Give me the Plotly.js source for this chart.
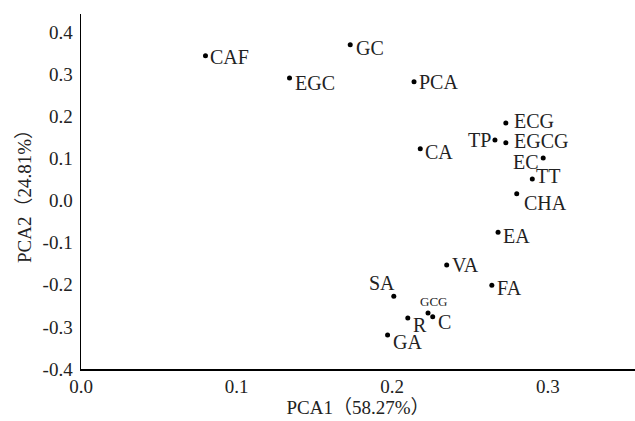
<!DOCTYPE html>
<html><head><meta charset="utf-8">
<script src="https://cdn.plot.ly/plotly-3.0.1.min.js"></script>
<style>html,body{margin:0;padding:0;background:#fff}#chart{width:635px;height:421px}</style>
</head><body><div id="chart"></div>
<script>
const names = ["CAF","EGC","GC","PCA","ECG","TP","EGCG","EC","TT","CHA","CA","EA","VA","FA","SA","GCG","C","R","GA"];
const pca1 = [0.080,0.134,0.173,0.214,0.273,0.266,0.273,0.297,0.290,0.280,0.218,0.268,0.235,0.264,0.201,0.223,0.226,0.210,0.197];
const pca2 = [0.344,0.291,0.370,0.282,0.184,0.144,0.137,0.101,0.051,0.016,0.123,-0.075,-0.153,-0.201,-0.227,-0.267,-0.276,-0.279,-0.319];
const xTicks = [0.0,0.1,0.2,0.3];
const yTicks = [0.4,0.3,0.2,0.1,0.0,-0.1,-0.2,-0.3,-0.4];

const FAM = "'Times New Roman', 'Liberation Serif', 'Noto Sans CJK SC', serif";
// label placement style: [xanchor, xshift, yshift]
const place = {
  CAF:["left",3,-1], EGC:["left",3,-5], GC:["left",4,-3], PCA:["left",3,0], ECG:["left",6,2],
  TP:["right",-2,0], EGCG:["left",6,2], EC:["right",-2,-4], TT:["left",2,3], CHA:["left",5,-9],
  CA:["left",3,-3], EA:["left",3,-4], VA:["left",3,0], FA:["left",3,-3], SA:["center",-12,13],
  GCG:["center",5,11], C:["left",3,-5], R:["left",3,-7], GA:["left",3,-7]
};
const annotations = names.map((n, i) => ({
  x: pca1[i], y: pca2[i], text: n, showarrow: false,
  xanchor: place[n][0], yanchor: "middle", xshift: place[n][1], yshift: place[n][2],
  font: {family: FAM, size: n === "GCG" ? 13 : 20, color: "#222"}
}));

const trace = {
  x: pca1, y: pca2, type: "scatter", mode: "markers",
  marker: {color: "#000", size: 5},
  cliponaxis: false, hoverinfo: "none"
};
const font = {family: FAM, size: 19, color: "#222"};
const tfont = {family: FAM, size: 19, color: "#222"};
const layout = {
  width: 635, height: 421,
  margin: {l: 81, r: 0, t: 14, b: 52},
  paper_bgcolor: "#fff", plot_bgcolor: "#fff",
  showlegend: false, font: font, annotations: annotations,
  xaxis: {range: [0, 0.356], tickvals: xTicks, ticktext: xTicks.map(v => v.toFixed(1)),
    showgrid: false, zeroline: false, showline: true, linecolor: "#000", linewidth: 1.5,
    ticks: "", tickfont: font,
    title: {text: "PCA1（58.27%）", font: tfont, standoff: 2}},
  yaxis: {range: [-0.4, 0.443], tickvals: yTicks, ticktext: yTicks.map(v => v.toFixed(1)),
    showgrid: false, zeroline: false, showline: true, linecolor: "#000", linewidth: 1.5,
    ticks: "", tickfont: font, ticklabelstandoff: 3,
    title: {text: "PCA2（24.81%）", font: tfont, standoff: 6}}
};
Plotly.newPlot("chart", [trace], layout, {displayModeBar: false, staticPlot: true});
</script></body></html>
